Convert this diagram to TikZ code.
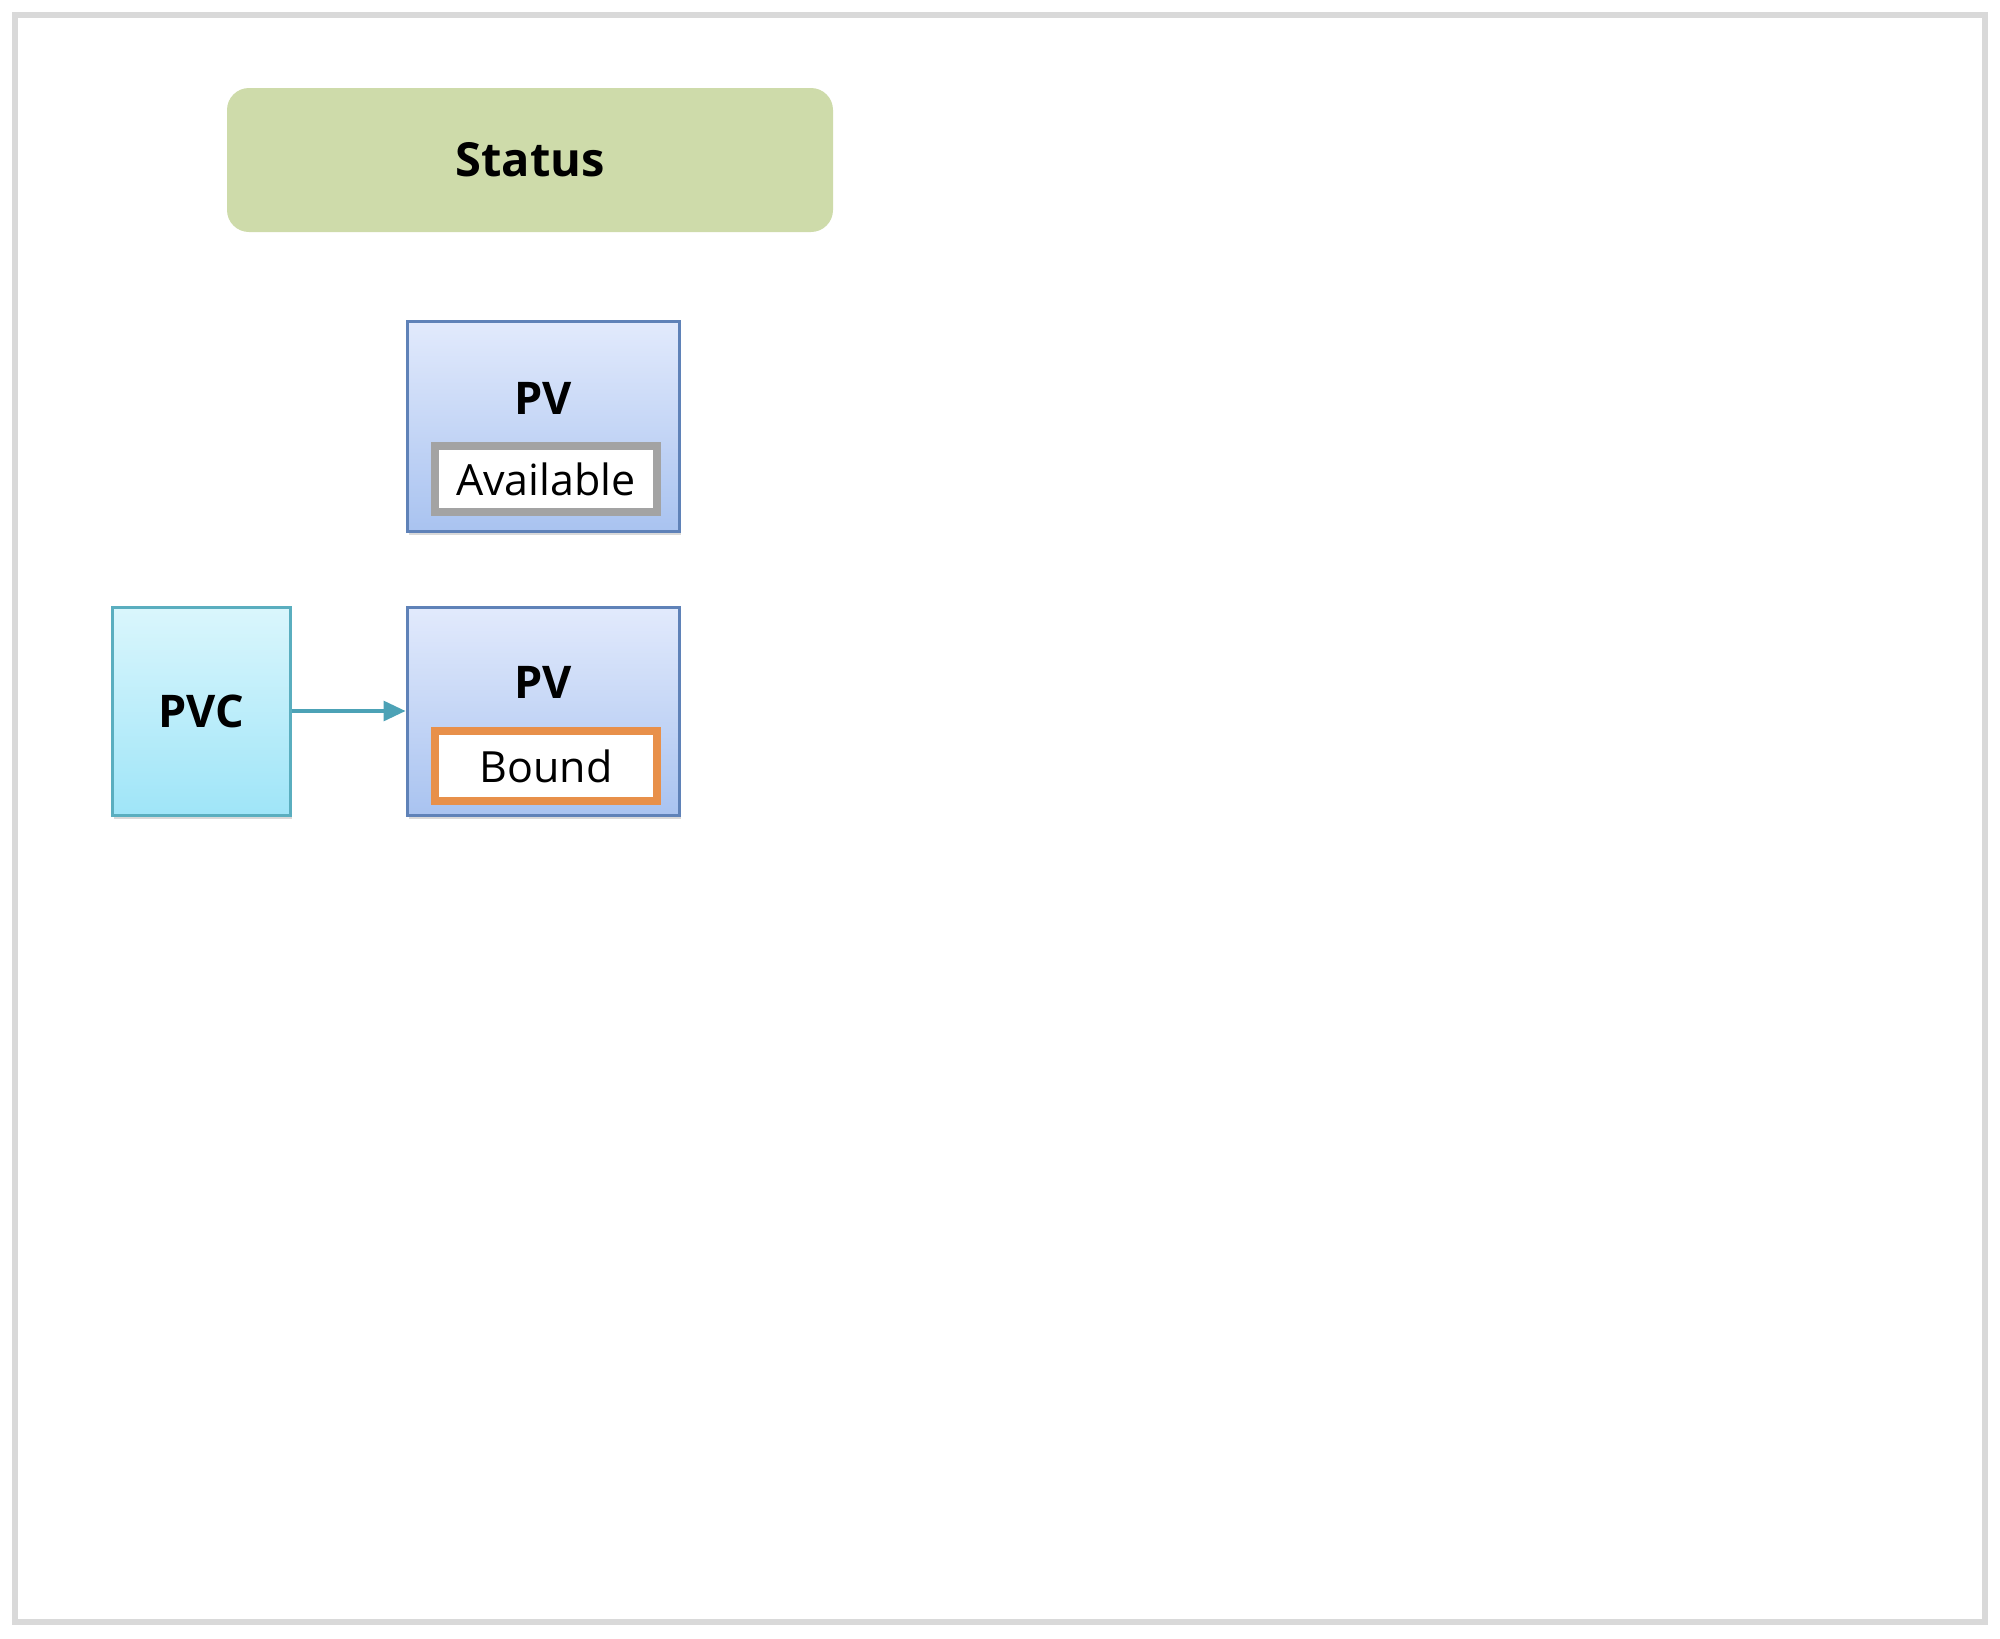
\documentclass[tikz,border=0pt]{standalone}
\usepackage{fontspec}
\setmainfont{Open Sans}
\usetikzlibrary{shadows,arrows.meta}
\definecolor{framegray}{HTML}{D9D9D9}
\definecolor{statusgreen}{HTML}{CEDBAA}
\definecolor{pvline}{HTML}{5F82B8}
\definecolor{pvtop}{HTML}{E2EAFC}
\definecolor{pvbot}{HTML}{A9C3F0}
\definecolor{pvcline}{HTML}{5AAEBF}
\definecolor{pvctop}{HTML}{DAF6FC}
\definecolor{pvcbot}{HTML}{9FE5F8}
\definecolor{availgray}{HTML}{A3A3A3}
\definecolor{boundorange}{HTML}{E8904A}
\definecolor{arrowteal}{HTML}{4CA2B6}
\begin{document}
\begin{tikzpicture}
[x=0.5pt,y=-0.5pt,>={Triangle[length=11pt,width=10pt]},
box/.style = {line width=1.5pt, minimum width=136pt, minimum height=104pt, inner sep=0pt,
  drop shadow={shadow xshift=1pt, shadow yshift=-2pt, opacity=0.3}},
pvbox/.style = {box, draw=pvline, top color=pvtop, bottom color=pvbot},
pvcbox/.style = {box, draw=pvcline, top color=pvctop, bottom color=pvcbot, minimum width=89pt},
state/.style = {draw, fill=white, line width=3.8pt, minimum width=111pt, minimum height=33pt, inner sep=0pt,
  font=\fontsize{21.5}{25}\selectfont},
bold/.style = {font=\fontsize{22.5}{26}\selectfont\bfseries},]

\useasboundingbox (0,0) rectangle (2000,1638);
\draw[framegray, line width=3pt] (15,15) rectangle (1985,1622);

\node (S) at (530,160)[fill=statusgreen, rounded corners=11pt, minimum width=303pt, minimum height=72pt,
  font=\fontsize{23.5}{27}\selectfont\bfseries] {Status};

\node (PV1) at (543,426)[pvbox, minimum height=105pt] {};
\node (L1) at (543,398)[bold] {PV};
\node (A) at (546,479)[state, draw=availgray] {Available};

\node (C) at (201,711)[pvcbox] {};
\node (LC) at (201,711)[bold] {PVC};
\node (PV2) at (543,711)[pvbox] {};
\node (L2) at (543,682)[bold] {PV};
\node (B) at (546,766)[state, draw=boundorange, minimum height=35pt] {Bound};

\draw[->, arrowteal, line width=1.6pt] (C.east)--(PV2.west);
\end{tikzpicture}
\end{document}
